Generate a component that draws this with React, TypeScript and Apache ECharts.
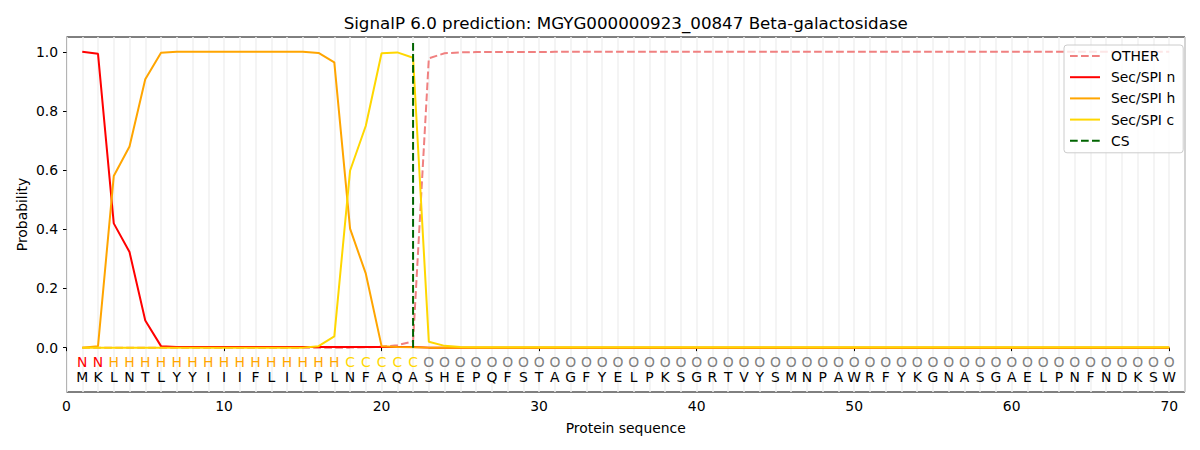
import React, { useEffect, useRef } from "react";
import * as echarts from "echarts";

// ---- Data ----
const residues = "MKLNTLYYIIIFLILPLNFAQASHEPQFSTAGFYELPKSGRTVYSMNPAWRFYKGNASGAELPNFNDKSW".split("");
const regionLabels = "NNHHHHHHHHHHHHHHHCCCCCOOOOOOOOOOOOOOOOOOOOOOOOOOOOOOOOOOOOOOOOOOOOOOOO".split("");

const otherValues = [
  0, 0, 0, 0, 0, 0, 0, 0, 0, 0,
  0, 0, 0, 0, 0, 0, 0, 0, 0.001, 0.003,
  0.008, 0.021, 0.978, 0.995, 0.998, 0.999, 0.999, 0.999, 0.999, 0.999,
  1, 1, 1, 1, 1, 1, 1, 1, 1, 1,
  1, 1, 1, 1, 1, 1, 1, 1, 1, 1,
  1, 1, 1, 1, 1, 1, 1, 1, 1, 1,
  1, 1, 1, 1, 1, 1, 1, 1, 1, 1,
];
const secNValues = [
  1.0, 0.993, 0.42, 0.323, 0.092, 0.005, 0.002, 0.002, 0.002, 0.002,
  0.002, 0.002, 0.002, 0.002, 0.002, 0.002, 0.002, 0.002, 0.002, 0.002,
  0.002, 0.002, 0, 0, 0, 0, 0, 0, 0, 0,
  0, 0, 0, 0, 0, 0, 0, 0, 0, 0,
  0, 0, 0, 0, 0, 0, 0, 0, 0, 0,
  0, 0, 0, 0, 0, 0, 0, 0, 0, 0,
  0, 0, 0, 0, 0, 0, 0, 0, 0, 0,
];
const secHValues = [
  0, 0.005, 0.58, 0.68, 0.907, 0.997, 1, 1, 1, 1,
  1, 1, 1, 1, 1, 0.996, 0.964, 0.402, 0.25, 0.005,
  0.002, 0.001, 0, 0, 0, 0, 0, 0, 0, 0,
  0, 0, 0, 0, 0, 0, 0, 0, 0, 0,
  0, 0, 0, 0, 0, 0, 0, 0, 0, 0,
  0, 0, 0, 0, 0, 0, 0, 0, 0, 0,
  0, 0, 0, 0, 0, 0, 0, 0, 0, 0,
];
const secCValues = [
  0, 0, 0, 0, 0, 0, 0, 0, 0, 0,
  0, 0, 0, 0, 0, 0.005, 0.038, 0.598, 0.75, 0.995,
  0.998, 0.98, 0.02, 0.006, 0.002, 0.001, 0.001, 0.001, 0.001, 0.001,
  0.001, 0.001, 0.001, 0.001, 0.001, 0.001, 0.001, 0.001, 0.001, 0.001,
  0.001, 0.001, 0.001, 0.001, 0.001, 0.001, 0.001, 0.001, 0.001, 0.001,
  0.001, 0.001, 0.001, 0.001, 0.001, 0.001, 0.001, 0.001, 0.001, 0.001,
  0.001, 0.001, 0.001, 0.001, 0.001, 0.001, 0.001, 0.001, 0.001, 0.001,
];
const csPosition = 22;
const csLine = [[csPosition, 0], [csPosition, 1.04]];
const xTicks = [0, 10, 20, 30, 40, 50, 60, 70];
const yTicks = [0, 0.2, 0.4, 0.6, 0.8, 1.0];

const labelColors: Record<string, string> = {
  N: "#ff0000",
  H: "#ffa500",
  C: "#ffd700",
  O: "#808080",
};

// ---- Layout ----
const W = 1200;
const H = 450;
const PL = 66.5, PR = 1185, PT = 37, PB = 392;
const XMIN = 0, XMAX = 71, YMIN = -0.15, YMAX = 1.05;
const FONT = "DejaVu Sans";

export default function App() {
  const ref = useRef<HTMLDivElement>(null);
  useEffect(() => {
    if (!ref.current) return;
    const chart = echarts.init(ref.current, undefined, { renderer: "svg" });
    const pxX = (PR - PL) / (XMAX - XMIN);
    const pxY = (PB - PT) / (YMAX - YMIN);
    const tickXMin = xTicks[0], tickXMax = xTicks[xTicks.length - 1];
    const tickYMin = yTicks[0], tickYMax = yTicks[yTicks.length - 1];
    const g1Left = PL + (tickXMin - XMIN) * pxX;
    const g1Right = W - (PL + (tickXMax - XMIN) * pxX);
    const g1Top = PT + (YMAX - tickYMax) * pxY;
    const g1BottomPx = PT + (YMAX - tickYMin) * pxY;
    const g1Bottom = H - g1BottomPx;

    const lineSeries = (name: string, vals: number[], color: string, dashed = false) => ({
      name,
      type: "line",
      xAxisIndex: 0,
      yAxisIndex: 0,
      data: vals.map((v, i) => [i + 1, v]),
      symbol: "none",
      showSymbol: false,
      lineStyle: { color, width: 2, type: dashed ? [7.7, 3.3] : "solid" },
      itemStyle: { color },
      z: 3,
    });

    const letterData = residues.map((r, i) => [i + 1, -0.098, r, "#000000"]);
    const labelData = regionLabels.map((r, i) => [i + 1, -0.047, r, labelColors[r]]);

    const textSeries = (name: string, data: any[]) => ({
      name,
      type: "custom",
      xAxisIndex: 0,
      yAxisIndex: 0,
      silent: true,
      data,
      renderItem: (params: any, api: any) => {
        const p = api.coord([api.value(0), api.value(1)]);
        const item = data[params.dataIndex];
        return {
          type: "text",
          x: p[0],
          y: p[1],
          style: {
            text: item[2],
            fill: item[3],
            fontSize: 13.9,
            fontFamily: FONT,
            align: "center",
            verticalAlign: "middle",
          },
        };
      },
      z: 4,
    });

    const option: any = {
      animation: false,
      backgroundColor: "#ffffff",
      title: {
        text: "SignalP 6.0 prediction: MGYG000000923_00847 Beta-galactosidase",
        left: (PL + PR) / 2,
        top: 14,
        textAlign: "center",
        padding: 0,
        textStyle: { fontFamily: FONT, fontSize: 16.7, fontWeight: "normal", color: "#000" },
      },
      legend: {
        data: ["OTHER", "Sec/SPI n", "Sec/SPI h", "Sec/SPI c", "CS"],
        orient: "vertical",
        left: 1064,
        top: 45,
        padding: [4, 8, 5, 5],
        itemWidth: 30,
        itemHeight: 14,
        itemGap: 7.2,
        itemStyle: { opacity: 0 },
        borderColor: "#cccccc",
        borderWidth: 1,
        borderRadius: 3,
        backgroundColor: "rgba(255,255,255,0.8)",
        textStyle: { fontFamily: FONT, fontSize: 13.9, color: "#000", padding: [0, 0, 0, 6] },
      },
      grid: [
        { left: PL, right: W - PR, top: PT, bottom: H - PB, show: true, borderColor: "#000", borderWidth: 1, backgroundColor: "transparent" },
        { left: g1Left, right: g1Right, top: g1Top, bottom: g1Bottom, show: false },
      ],
      xAxis: [
        {
          type: "value", gridIndex: 0, min: XMIN, max: XMAX,
          axisLine: { show: false }, axisTick: { show: false }, axisLabel: { show: false },
          splitLine: { show: false },
          name: "Protein sequence", nameLocation: "middle", nameGap: 29,
          nameTextStyle: { fontFamily: FONT, fontSize: 13.9, color: "#000" },
        },
        {
          type: "value", gridIndex: 1, min: tickXMin, max: tickXMax, interval: 10,
          position: "bottom", offset: PB - g1BottomPx,
          axisLine: { show: false },
          axisTick: { show: true, length: 3.5, lineStyle: { color: "#000", width: 1 } },
          axisLabel: { fontFamily: FONT, fontSize: 13.9, color: "#000", margin: 7 },
          splitLine: { show: false },
        },
        {
          type: "value", gridIndex: 0, min: XMIN, max: XMAX, interval: 1,
          axisLine: { show: false }, axisTick: { show: false }, axisLabel: { show: false },
          splitLine: { show: true, lineStyle: { color: "#f1f1f1", width: 1.5 } },
        },
      ],
      yAxis: [
        {
          type: "value", gridIndex: 0, min: YMIN, max: YMAX,
          axisLine: { show: false }, axisTick: { show: false }, axisLabel: { show: false },
          splitLine: { show: false },
          name: "Probability", nameLocation: "middle", nameGap: 38,
          nameTextStyle: { fontFamily: FONT, fontSize: 13.9, color: "#000" },
        },
        {
          type: "value", gridIndex: 1, min: tickYMin, max: tickYMax, interval: 0.2,
          axisLine: { show: false },
          axisTick: { show: true, length: 3.5, lineStyle: { color: "#000", width: 1 } },
          axisLabel: { fontFamily: FONT, fontSize: 13.9, color: "#000", margin: 8.4, formatter: (v: number) => v.toFixed(1) },
          splitLine: { show: false },
        },
      ],
      series: [
        lineSeries("OTHER", otherValues, "#f08080", true),
        lineSeries("Sec/SPI n", secNValues, "#ff0000"),
        lineSeries("Sec/SPI h", secHValues, "#ffa500"),
        lineSeries("Sec/SPI c", secCValues, "#ffd700"),
        {
          name: "CS",
          type: "line",
          xAxisIndex: 0,
          yAxisIndex: 0,
          data: csLine,
          symbol: "none",
          showSymbol: false,
          lineStyle: { color: "#006400", width: 2, type: [7.7, 3.3] },
          itemStyle: { color: "#006400" },
          z: 5,
        },
        textSeries("labels", labelData),
        textSeries("residues", letterData),
      ],
    };
    chart.setOption(option);
    return () => chart.dispose();
  }, []);
  return (
    <div
      ref={ref}
      style={{ position: "fixed", left: 0, top: 0, width: W, height: H, background: "#fff" }}
    />
  );
}
